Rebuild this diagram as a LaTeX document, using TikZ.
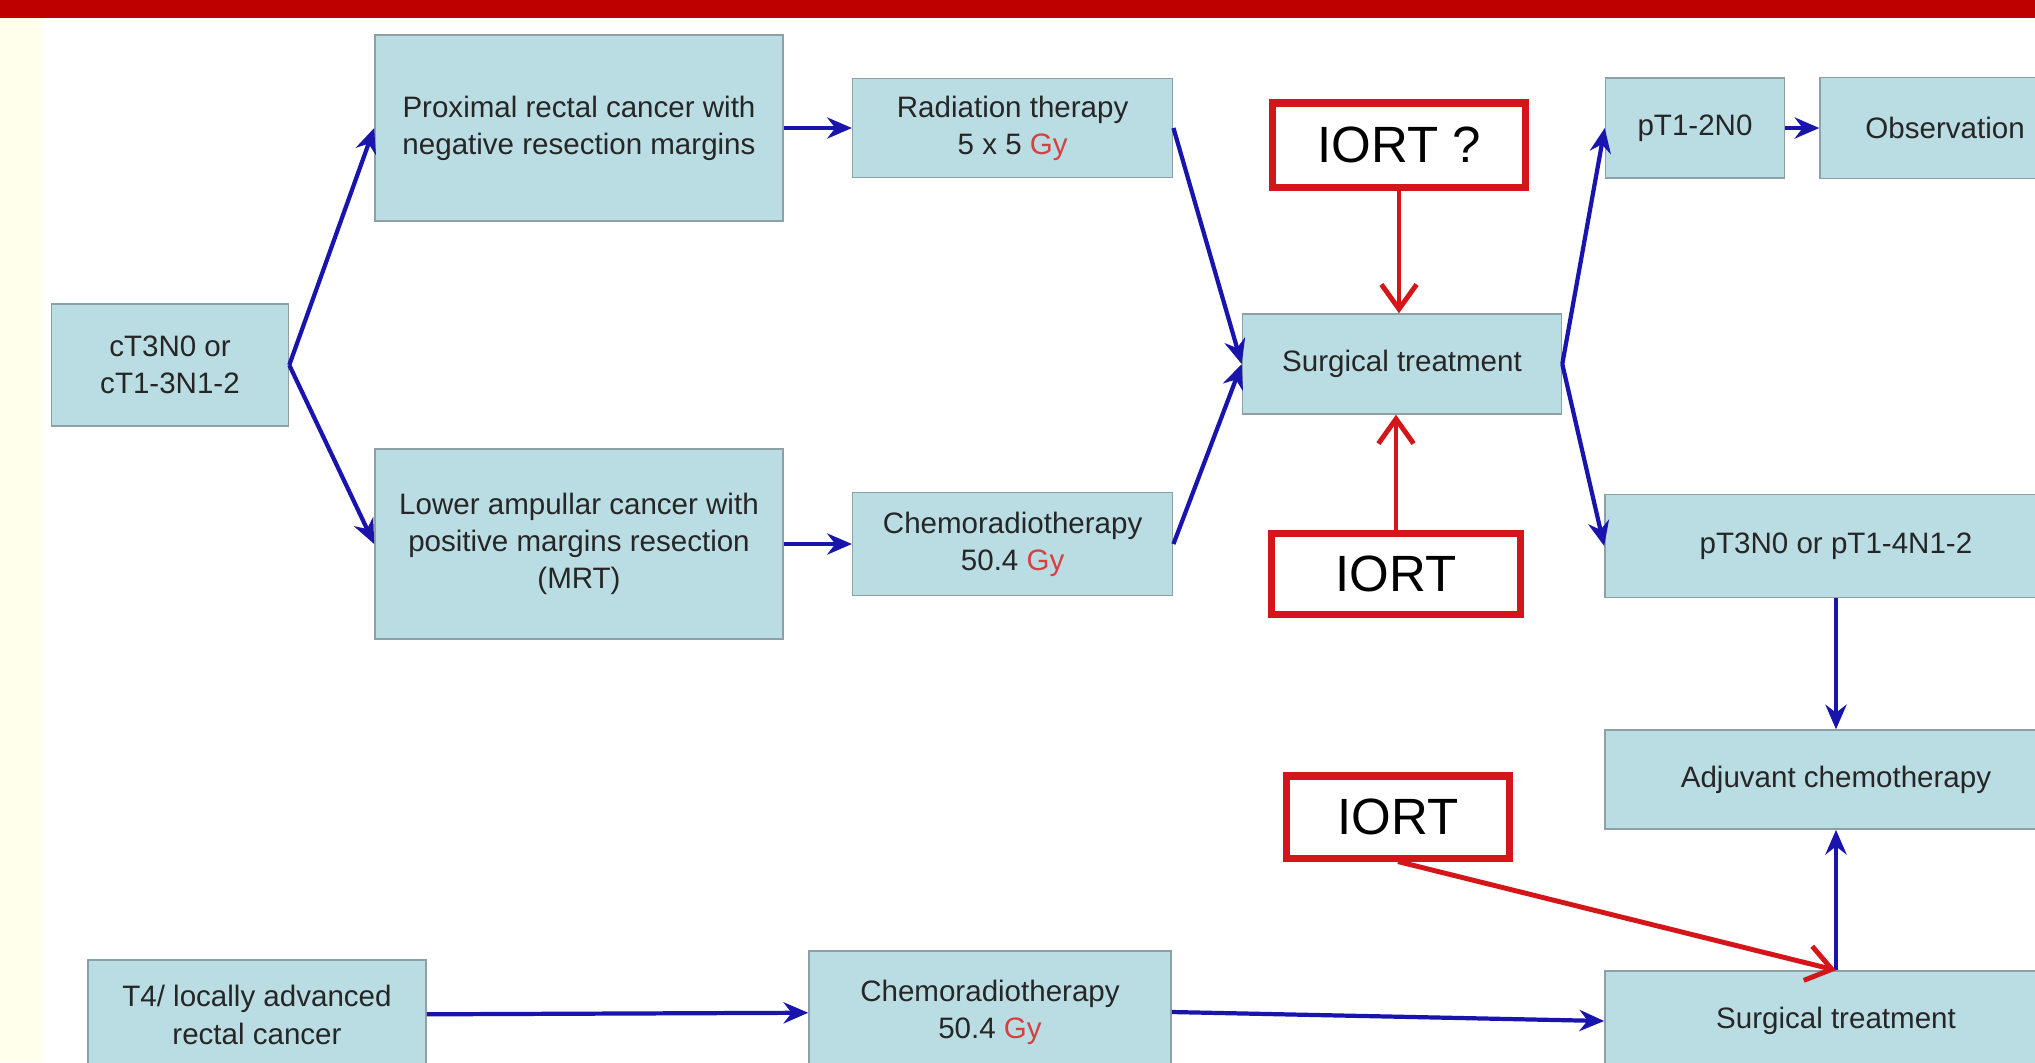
\documentclass[tikz,border=0pt]{standalone}
\usepackage{fontspec}
\setmainfont{Liberation Sans}
\usepackage{xcolor}
\usetikzlibrary{arrows.meta, positioning}

\definecolor{boxfill}{RGB}{186,221,227}
\definecolor{boxline}{RGB}{140,160,166}
\definecolor{flowblue}{RGB}{24,20,172}
\definecolor{iortred}{RGB}{212,22,26}
\definecolor{gyred}{RGB}{214,64,64}
\definecolor{barred}{RGB}{190,0,0}
\definecolor{cream}{RGB}{255,255,236}
\newcommand{\gyunit}{\textcolor{gyred}{Gy}}

\begin{document}
\begin{tikzpicture}[
    x=0.01cm, y=-0.01cm,
    font=\fontsize{8.4}{10.6}\selectfont,
    stage/.style={draw=boxline, fill=boxfill, rectangle, align=center, inner sep=2pt, text=black!85},
    iort/.style={draw=iortred, line width=2pt, fill=white, rectangle, align=center, font=\fontsize{14.5}{16}\selectfont},
    flow/.style={draw=flowblue, line width=1.2pt, -{Stealth[length=7pt, width=6pt]}},
    redflow/.style={draw=iortred, line width=1.4pt, -{Straight Barb[length=7pt, width=10pt]}}
]
\useasboundingbox (0,0) rectangle (2035,1062);
\clip (0,0) rectangle (2035,1062);

% background and title bar
\fill[white] (0,0) rectangle (2035,1062);
\fill[cream] (0,18) rectangle (42,1062);
\fill[barred] (0,0) rectangle (2035,18);

% Staging
\node[stage, minimum width=2.37cm, minimum height=1.22cm] (staging) at (170,365) {cT3N0 or\\cT1-3N1-2};

% Upper branch
\node[stage, minimum width=4.08cm, minimum height=1.86cm] (proximal) at (579,128) {
    Proximal rectal cancer with\\
    negative resection margins
};
\node[stage, minimum width=3.20cm, minimum height=0.99cm, right=0.68cm of proximal] (radiation) {
    Radiation therapy\\
    5 x 5 \gyunit
};

% Lower branch
\node[stage, minimum width=4.08cm, minimum height=1.90cm] (ampullar) at (579,544) {
    Lower ampullar cancer with\\
    positive margins resection\\
    (MRT)
};
\node[stage, minimum width=3.20cm, minimum height=1.03cm, right=0.68cm of ampullar] (chemo) {
    Chemoradiotherapy\\
    50.4 \gyunit
};

% Surgery and IORT
\node[stage, minimum width=3.19cm, minimum height=1.00cm] (surgery) at (1402,364) {Surgical treatment};
\node[iort, minimum width=2.53cm, minimum height=0.84cm] (iortq) at (1399,145) {IORT ?};
\node[iort, minimum width=2.48cm, minimum height=0.81cm] (iortmid) at (1396,574) {IORT};

% Pathology outcome
\node[stage, minimum width=1.79cm, minimum height=1.00cm] (ptlow) at (1695,128) {pT1-2N0};
\node[stage, minimum width=2.50cm, minimum height=1.01cm, right=0.34cm of ptlow] (observation) {Observation};
\node[stage, minimum width=4.62cm, minimum height=1.03cm] (pthigh) at (1836,546) {pT3N0 or pT1-4N1-2};
\node[stage, minimum width=4.62cm, minimum height=0.99cm, below=1.31cm of pthigh] (adjuvant) {Adjuvant chemotherapy};

% T4 pathway
\node[stage, minimum width=3.38cm, minimum height=1.10cm] (advanced) at (257,1015) {
    T4/ locally advanced\\
    rectal cancer
};
\node[stage, minimum width=3.62cm, minimum height=1.22cm] (chemolow) at (990,1012) {
    Chemoradiotherapy\\
    50.4 \gyunit
};
\node[stage, minimum width=4.62cm, minimum height=1.00cm] (surglow) at (1836,1021) {Surgical treatment};
\node[iort, minimum width=2.23cm, minimum height=0.82cm] (iortlow) at (1398,817) {IORT};

% blue connectors
\draw[flow] (staging.east) -- (proximal.west);
\draw[flow] (staging.east) -- (ampullar.west);
\draw[flow] (proximal) -- (radiation);
\draw[flow] (ampullar) -- (chemo);
\draw[flow] (radiation.east) -- (surgery.west);
\draw[flow] (chemo.east) -- (surgery.west);
\draw[flow] (surgery.east) -- (ptlow.west);
\draw[flow] (surgery.east) -- (pthigh.west);
\draw[flow] (ptlow) -- (observation);
\draw[flow] (pthigh) -- (adjuvant);
\draw[flow] (surglow) -- (adjuvant);
\draw[flow] (advanced) -- (chemolow);
\draw[flow] (chemolow.east) -- (surglow.west);

% red connectors
\draw[redflow] (iortq.south) -- (iortq.south |- surgery.north);
\draw[redflow] (iortmid.north) -- (iortmid.north |- surgery.south);
\draw[redflow] (iortlow.south) -- (surglow.north);

\end{tikzpicture}
\end{document}
